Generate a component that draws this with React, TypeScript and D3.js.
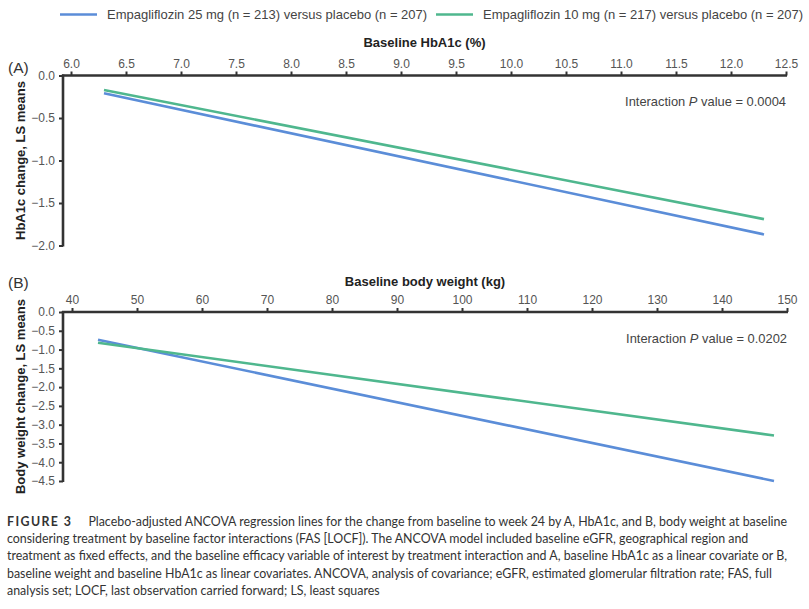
import { useEffect, useRef } from 'react';
import * as d3 from 'd3';

// series labels
const seriesNames = [
  'Empagliflozin 25 mg (n = 213) versus placebo (n = 207)',
  'Empagliflozin 10 mg (n = 217) versus placebo (n = 207)',
];
const seriesColors = ['#5b8dd8', '#4fb78e'];

// panel A: baseline HbA1c
const hbaX = [6.3, 12.3];
const hba25 = [-0.21, -1.87];
const hba10 = [-0.17, -1.69];
const hbaXTicks = [6.0, 6.5, 7.0, 7.5, 8.0, 8.5, 9.0, 9.5, 10.0, 10.5, 11.0, 11.5, 12.0, 12.5];
const hbaYTicks = [0, -0.5, -1.0, -1.5, -2.0];

// panel B: baseline body weight
const wtX = [44, 148];
const wt25 = [-0.74, -4.5];
const wt10 = [-0.82, -3.29];
const wtXTicks = [40, 50, 60, 70, 80, 90, 100, 110, 120, 130, 140, 150];
const wtYTicks = [0, -0.5, -1.0, -1.5, -2.0, -2.5, -3.0, -3.5, -4.0, -4.5];

const caption = [
  'Placebo-adjusted ANCOVA regression lines for the change from baseline to week 24 by A, HbA1c, and B, body weight at baseline',
  'considering treatment by baseline factor interactions (FAS [LOCF]). The ANCOVA model included baseline eGFR, geographical region and',
  'treatment as fixed effects, and the baseline efficacy variable of interest by treatment interaction and A, baseline HbA1c as a linear covariate or B,',
  'baseline weight and baseline HbA1c as linear covariates. ANCOVA, analysis of covariance; eGFR, estimated glomerular filtration rate; FAS, full',
  'analysis set; LOCF, last observation carried forward; LS, least squares',
];

const W = 809;
const H = 609;
const AX = '#333';
const FONT = '"Liberation Sans", Arial, sans-serif';

export default function App() {
  const ref = useRef<SVGSVGElement>(null);

  useEffect(() => {
    if (!ref.current) return;
    const svg = d3.select(ref.current).attr('font-family', FONT);
    svg.selectAll('*').remove();

    // legend
    seriesNames.forEach((name, i) => {
      const lx = i === 0 ? 60 : 436;
      const g = svg.append('g').attr('transform', `translate(${lx},14.5)`);
      g.append('line')
        .attr('x1', 0).attr('x2', 37)
        .attr('stroke', seriesColors[i]).attr('stroke-width', 2.6);
      g.append('text')
        .attr('x', 47).attr('y', 4.5)
        .attr('font-family', FONT)
        .attr('font-size', 13).attr('fill', '#444')
        .text(name);
    });

    const panel = (opts: {
      xDom: [number, number];
      xRange: [number, number];
      yDom: [number, number];
      yRange: [number, number];
      xTicks: number[];
      yTicks: number[];
      xFmt: (d: number) => string;
      xs: number[];
      s25: number[];
      s10: number[];
      tag: string;
      tagY: number;
      xTitle: string;
      xTitleY: number;
      yTitle: string;
      pText: string;
      pY: number;
    }) => {
      const x = d3.scaleLinear().domain(opts.xDom).range(opts.xRange);
      const y = d3.scaleLinear().domain(opts.yDom).range(opts.yRange);
      const axisLeftX = 63;
      const top = opts.yRange[1];
      const bottom = opts.yRange[0];

      const g = svg.append('g').attr('font-family', FONT);

      // top x axis
      const xa = g.append('g')
        .attr('transform', `translate(0,${top})`)
        .call(d3.axisTop(x).tickValues(opts.xTicks).tickFormat(opts.xFmt as any).tickSize(4).tickPadding(4));
      xa.select('.domain').remove();
      xa.selectAll('line').attr('stroke', AX).attr('stroke-width', 2);
      xa.selectAll('text').attr('fill', '#555').attr('font-size', 12).attr('font-family', FONT);
      g.append('line')
        .attr('x1', axisLeftX - 1).attr('x2', opts.xRange[1] + 1)
        .attr('y1', top).attr('y2', top)
        .attr('stroke', AX).attr('stroke-width', 2.6);

      // left y axis
      const ya = g.append('g')
        .attr('transform', `translate(${axisLeftX},0)`)
        .call(d3.axisLeft(y).tickValues(opts.yTicks).tickFormat(d3.format('.1f') as any).tickSize(4).tickPadding(4));
      ya.select('.domain').remove();
      ya.selectAll('line').attr('stroke', AX).attr('stroke-width', 2);
      ya.selectAll('text').attr('fill', '#555').attr('font-size', 12).attr('font-family', FONT);
      g.append('line')
        .attr('x1', axisLeftX).attr('x2', axisLeftX)
        .attr('y1', top - 1).attr('y2', bottom + 1)
        .attr('stroke', AX).attr('stroke-width', 2.6);

      // regression lines
      const line = d3.line<[number, number]>()
        .x((d) => x(d[0]))
        .y((d) => y(d[1]));
      [opts.s25, opts.s10].forEach((s, i) => {
        g.append('path')
          .datum(opts.xs.map((v, j) => [v, s[j]] as [number, number]))
          .attr('fill', 'none')
          .attr('stroke', seriesColors[i])
          .attr('stroke-width', 2.6)
          .attr('d', line);
      });

      // labels
      g.append('text')
        .attr('x', 8).attr('y', opts.tagY)
        .attr('font-size', 15.5).attr('fill', '#333')
        .text(opts.tag);
      g.append('text')
        .attr('x', (axisLeftX + opts.xRange[1]) / 2).attr('y', opts.xTitleY)
        .attr('text-anchor', 'middle')
        .attr('font-size', 13).attr('font-weight', 'bold').attr('fill', '#222')
        .text(opts.xTitle);
      g.append('text')
        .attr('transform', `translate(24.5,${(top + bottom) / 2}) rotate(-90)`)
        .attr('text-anchor', 'middle')
        .attr('font-size', 13).attr('font-weight', 'bold').attr('fill', '#222')
        .text(opts.yTitle);
      const pt = g.append('text')
        .attr('x', opts.xRange[1]).attr('y', opts.pY)
        .attr('text-anchor', 'end')
        .attr('font-size', 12.9).attr('fill', '#444');
      pt.append('tspan').text('Interaction ');
      pt.append('tspan').attr('font-style', 'italic').text('P');
      pt.append('tspan').text(` value = ${opts.pText}`);
    };

    panel({
      xDom: [6, 12.5], xRange: [71, 786],
      yDom: [-2, 0], yRange: [245.5, 75.5],
      xTicks: hbaXTicks, yTicks: hbaYTicks,
      xFmt: d3.format('.1f'),
      xs: hbaX, s25: hba25, s10: hba10,
      tag: '(A)', tagY: 73,
      xTitle: 'Baseline HbA1c (%)', xTitleY: 47,
      yTitle: 'HbA1c change, LS means',
      pText: '0.0004', pY: 106,
    });

    panel({
      xDom: [40, 150], xRange: [72, 787],
      yDom: [-4.5, 0], yRange: [481, 312],
      xTicks: wtXTicks, yTicks: wtYTicks,
      xFmt: d3.format('d'),
      xs: wtX, s25: wt25, s10: wt10,
      tag: '(B)', tagY: 288,
      xTitle: 'Baseline body weight (kg)', xTitleY: 286,
      yTitle: 'Body weight change, LS means',
      pText: '0.0202', pY: 343,
    });

    // caption
    const cap = svg.append('g')
      .attr('font-family', 'Lato, "Open Sans", sans-serif')
      .attr('font-size', 12.4)
      .attr('fill', '#333');
    caption.forEach((txt, i) => {
      const t = cap.append('text').attr('x', 7).attr('y', 525.5 + i * 17.4);
      if (i === 0) {
        t.append('tspan')
          .attr('font-weight', 'bold').attr('letter-spacing', 1.4)
          .text('FIGURE 3');
        t.append('tspan').attr('dx', 16).text(txt);
      } else {
        t.text(txt);
      }
    });
  }, []);

  return (
    <svg
      ref={ref}
      width={W}
      height={H}
      style={{ position: 'absolute', left: 0, top: 0, background: '#fff' }}
    />
  );
}
